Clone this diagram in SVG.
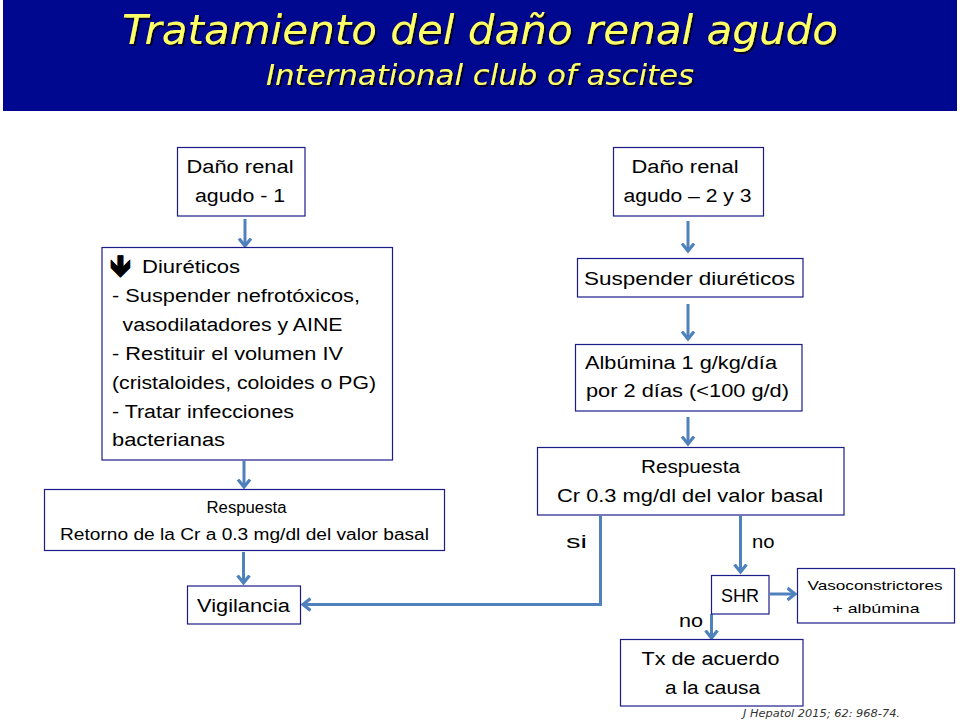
<svg xmlns="http://www.w3.org/2000/svg" width="960" height="720" viewBox="0 0 960 720">
<defs>
<marker id="ah" markerUnits="userSpaceOnUse" markerWidth="16" markerHeight="16" viewBox="-8 -8 16 16" refX="0" refY="0" orient="auto">
<polyline points="-7.5,-6 0,0 -7.5,6" fill="none" stroke="#4F81BD" stroke-width="3.2" stroke-linejoin="miter"/>
</marker>
<filter id="sh" x="-5%" y="-20%" width="110%" height="150%">
<feDropShadow dx="2" dy="2" stdDeviation="0.6" flood-color="#000022" flood-opacity="0.9"/>
</filter>
<style>
.box{fill:#fff;stroke:#1B1B8A;stroke-width:1.2}
.t{font-family:"Liberation Sans",Arial,sans-serif;font-size:18px;fill:#000}
.c{text-anchor:middle}
.s{font-size:16px}
.sm{font-size:13.5px}
.conn{fill:none;stroke:#4F81BD;stroke-width:3;marker-end:url(#ah)}
.title{font-family:"DejaVu Sans","Liberation Sans",sans-serif;font-style:italic;fill:#FFFF66;text-anchor:middle;filter:url(#sh)}
</style>
</defs>
<rect x="0" y="0" width="960" height="720" fill="#fff"/>
<g id="header">
<rect x="3" y="0" width="954" height="111" fill="#00088F"/>
<text class="title" x="480" y="44" style="font-size:40px" textLength="716" lengthAdjust="spacingAndGlyphs">Tratamiento del daño renal agudo</text>
<text class="title" x="480" y="85" style="font-size:29px" textLength="428" lengthAdjust="spacingAndGlyphs">International club of ascites</text>
</g>
<g id="connectors">
<line class="conn" x1="245" y1="219" x2="245" y2="246"/>
<line class="conn" x1="244" y1="461" x2="244" y2="487"/>
<line class="conn" x1="243.5" y1="552" x2="243.5" y2="583"/>
<line class="conn" x1="688" y1="221" x2="688" y2="251"/>
<line class="conn" x1="688" y1="304" x2="688" y2="339"/>
<line class="conn" x1="688" y1="417" x2="688" y2="444"/>
<polyline class="conn" points="600.5,516 600.5,604.5 303,604.5"/>
<line class="conn" x1="740.5" y1="516" x2="740.5" y2="572"/>
<line class="conn" x1="770" y1="594" x2="795" y2="594"/>
<line class="conn" x1="711.5" y1="614" x2="711.5" y2="638"/>
</g>
<g id="n1">
<rect class="box" x="177.5" y="147.5" width="127.5" height="68.5"/>
<text class="t c" x="240" y="173" textLength="107" lengthAdjust="spacingAndGlyphs">Daño renal</text>
<text class="t c" x="240" y="202" textLength="90" lengthAdjust="spacingAndGlyphs">agudo - 1</text>
</g>
<g id="n2">
<rect class="box" x="102" y="247.5" width="290.5" height="212.5"/>
<text x="110" y="276" style="font-size:29px;font-family:'DejaVu Sans','Noto Sans',sans-serif;font-weight:bold;fill:#000;stroke:#000;stroke-width:0.6">🡻</text>
<text class="t" x="142" y="273" textLength="98" lengthAdjust="spacingAndGlyphs">Diuréticos</text>
<text class="t" x="112" y="302" textLength="248" lengthAdjust="spacingAndGlyphs">- Suspender nefrotóxicos,</text>
<text class="t" x="122.5" y="331" textLength="220" lengthAdjust="spacingAndGlyphs">vasodilatadores y AINE</text>
<text class="t" x="112" y="360" textLength="231" lengthAdjust="spacingAndGlyphs">- Restituir el volumen IV</text>
<text class="t" x="112" y="389" textLength="264" lengthAdjust="spacingAndGlyphs">(cristaloides, coloides o PG)</text>
<text class="t" x="112" y="418" textLength="182" lengthAdjust="spacingAndGlyphs">- Tratar infecciones</text>
<text class="t" x="112" y="446" textLength="113" lengthAdjust="spacingAndGlyphs">bacterianas</text>
</g>
<g id="n3">
<rect class="box" x="44.5" y="489.5" width="400" height="61"/>
<text class="t c s" x="246.5" y="513" textLength="80" lengthAdjust="spacingAndGlyphs">Respuesta</text>
<text class="t c s" x="244.5" y="540" textLength="369" lengthAdjust="spacingAndGlyphs">Retorno de la Cr a 0.3 mg/dl del valor basal</text>
</g>
<g id="n4">
<rect class="box" x="187.5" y="586" width="113" height="38"/>
<text class="t c" x="243.5" y="612" textLength="93" lengthAdjust="spacingAndGlyphs">Vigilancia</text>
</g>
<g id="n5">
<rect class="box" x="613.5" y="147.5" width="150" height="68.5"/>
<text class="t c" x="685" y="172.5" textLength="107" lengthAdjust="spacingAndGlyphs">Daño renal</text>
<text class="t c" x="687.5" y="201.5" textLength="128" lengthAdjust="spacingAndGlyphs">agudo – 2 y 3</text>
</g>
<g id="n6">
<rect class="box" x="577.5" y="258.5" width="225.5" height="38.5"/>
<text class="t c" x="689.5" y="285" textLength="211" lengthAdjust="spacingAndGlyphs">Suspender diuréticos</text>
</g>
<g id="n7">
<rect class="box" x="575.5" y="344.5" width="226.5" height="66.5"/>
<text class="t" x="585" y="369" textLength="192" lengthAdjust="spacingAndGlyphs">Albúmina 1 g/kg/día</text>
<text class="t" x="586" y="397" textLength="203" lengthAdjust="spacingAndGlyphs">por 2 días (&lt;100 g/d)</text>
</g>
<g id="n8">
<rect class="box" x="537.5" y="447.5" width="306.5" height="67.5"/>
<text class="t c" x="690.5" y="473" textLength="99" lengthAdjust="spacingAndGlyphs">Respuesta</text>
<text class="t c" x="690" y="502" textLength="266" lengthAdjust="spacingAndGlyphs">Cr 0.3 mg/dl del valor basal</text>
</g>
<g id="n9">
<rect class="box" x="711.5" y="575.5" width="57.5" height="38.5"/>
<text class="t c" x="740" y="602" style="font-size:19px" textLength="38" lengthAdjust="spacingAndGlyphs">SHR</text>
</g>
<g id="n10">
<rect class="box" x="797.5" y="568.5" width="157" height="54.5"/>
<text class="t c sm" x="875" y="589.5" textLength="135" lengthAdjust="spacingAndGlyphs">Vasoconstrictores</text>
<text class="t c sm" x="876" y="612.5" textLength="87" lengthAdjust="spacingAndGlyphs">+ albúmina</text>
</g>
<g id="n11">
<rect class="box" x="620.5" y="639.5" width="182.5" height="66.5"/>
<text class="t c" x="710.5" y="664.5" textLength="138" lengthAdjust="spacingAndGlyphs">Tx de acuerdo</text>
<text class="t c" x="712.5" y="693.5" textLength="95" lengthAdjust="spacingAndGlyphs">a la causa</text>
</g>
<g id="labels">
<text class="t" x="566" y="548" textLength="21" lengthAdjust="spacingAndGlyphs">si</text>
<text class="t" x="752" y="548" textLength="22.5" lengthAdjust="spacingAndGlyphs">no</text>
<text class="t" x="679" y="627" textLength="24" lengthAdjust="spacingAndGlyphs">no</text>
<text x="743" y="717" style="font-family:'DejaVu Sans',sans-serif;font-style:italic;font-size:11px;fill:#333" textLength="157" lengthAdjust="spacingAndGlyphs">J Hepatol  2015; 62: 968-74.</text>
</g>
</svg>
